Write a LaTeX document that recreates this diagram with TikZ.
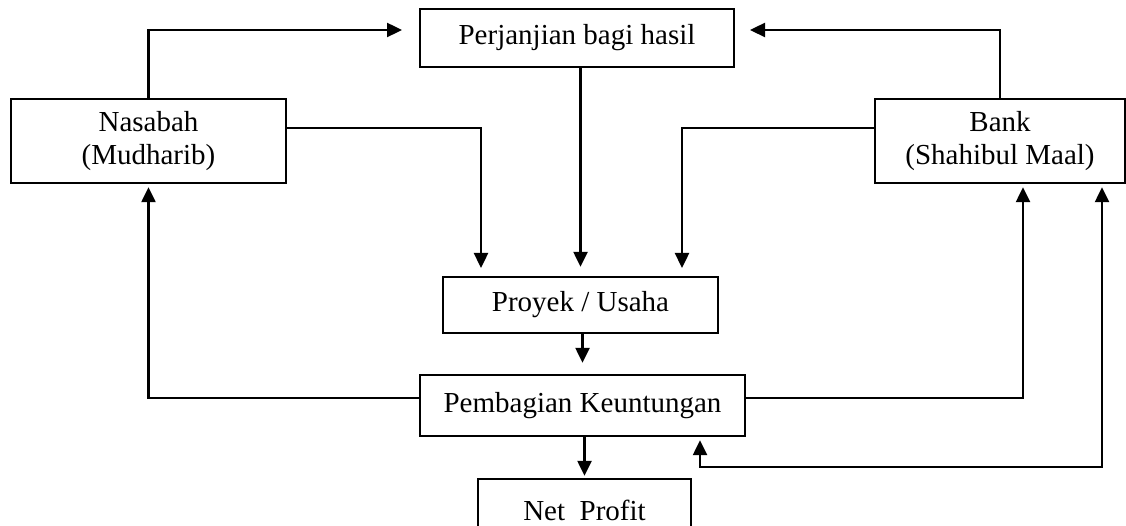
\documentclass[tikz,border=0pt]{standalone}
\usepackage{fontspec}
\setmainfont{Liberation Serif}
\usetikzlibrary{arrows.meta}
\begin{document}
\begin{tikzpicture}[x=1pt,y=-1pt,
  box/.style={draw,line width=2.4pt,inner sep=0pt,align=center,
    font=\fontsize{29}{33}\selectfont},
  arr/.style={line width=2.4pt,-{Triangle[length=15pt,width=14pt]}},
  arrb/.style={line width=2.4pt,{Triangle[length=15pt,width=14pt]}-{Triangle[length=15pt,width=14pt]}}]
\useasboundingbox (0,0) rectangle (1126,526);
\node[box,minimum width=314pt,minimum height=58pt] (perj) at (577,38) {Perjanjian bagi hasil};
\node[box,minimum width=275pt,minimum height=84pt] (nas) at (148.5,141) {Nasabah\\(Mudharib)};
\node[box,minimum width=250pt,minimum height=84pt] (bank) at (1000,141) {Bank\\(Shahibul Maal)};
\node[box,minimum width=275pt,minimum height=56pt] (proy) at (580.5,305) {Proyek / Usaha};
\node[box,minimum width=325pt,minimum height=61pt] (pemb) at (582.5,405.5) {Pembagian Keuntungan};
\node[box,minimum width=213pt,minimum height=62pt] (net) at (584.5,510) {Net\ \ Profit};
\coordinate (pL) at (402,30);
\coordinate (pR) at (750,30);
\coordinate (qL) at (481,268);
\coordinate (qR) at (682,268);
\coordinate (low) at (0,467);
% to agreement
\draw[arr] (nas.north) |- (pL);
\draw[arr] (bank.north) |- (pR);
% to project
\draw[arr] (nas.east |- 0,128) -| (qL);
\draw[arr] (bank.west |- 0,128) -| (qR);
\draw[arr,shorten >=9pt] (perj.south -| proy.north) -- (proy.north);
% project to profit sharing
\draw[arr,shorten >=11pt] (proy.south -| pemb.north) -- (pemb.north);
\draw[arr,shorten >=2pt] (pemb.south -| net.north) -- (net.north);
% profit sharing to parties
\draw[arr,shorten >=3pt] (pemb.west |- 0,398) -| (nas.south);
\draw[arr,shorten >=3pt] (pemb.east |- 0,398) -| ([xshift=23pt]bank.south);
\draw[arrb,shorten <=3pt,shorten >=3pt] ([xshift=117.5pt]pemb.south) -- ([xshift=117.5pt]pemb.south |- low) -| ([xshift=102pt]bank.south);
\end{tikzpicture}
\end{document}
